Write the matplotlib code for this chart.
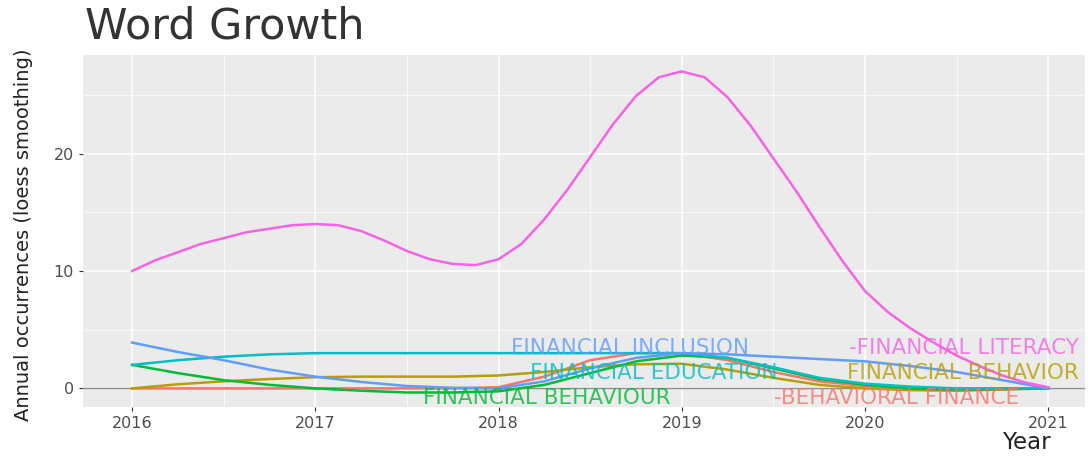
import numpy as np
import matplotlib
matplotlib.use("Agg")
import matplotlib.pyplot as plt
from matplotlib.ticker import MultipleLocator

plt.rcParams["font.family"] = ["DejaVu Sans"]

years = [2016.0, 2016.25, 2016.5, 2016.75, 2017.0, 2017.25, 2017.5, 2017.75,
         2018.0, 2018.25, 2018.5, 2018.75, 2019.0, 2019.25, 2019.5, 2019.75,
         2020.0, 2020.25, 2020.5, 2020.75, 2021.0]

behavioral_finance = [0, 0, 0, 0, 0, 0, 0, 0, 0.1, 1.0, 2.4, 3.0, 3.0,
                      2.4, 1.4, 0.6, 0.2, 0.0, -0.05, 0, 0]
financial_behavior = [0.0, 0.35, 0.6, 0.8, 0.95, 1.0, 1.0, 1.0, 1.1, 1.4, 1.8,
                      2.05, 2.1, 1.6, 0.9, 0.3, 0.0, -0.15, -0.2, -0.1, 0]
financial_behaviour = [2.0, 1.3, 0.7, 0.3, 0.0, -0.2, -0.35, -0.35, -0.25, 0.3,
                       1.3, 2.3, 2.8, 2.6, 1.7, 0.8, 0.3, 0.0, -0.1, -0.05, 0]
financial_education = [2.0, 2.4, 2.7, 2.9, 3.0, 3.0, 3.0, 3.0, 3.0, 3.0, 3.0,
                       3.0, 3.0, 2.6, 1.8, 0.9, 0.4, 0.15, 0.0, 0.0, 0.0]
financial_inclusion = [3.9, 3.1, 2.4, 1.6, 1.0, 0.55, 0.2, 0.05, 0.0, 0.6, 1.7,
                       2.6, 3.0, 2.9, 2.7, 2.5, 2.3, 1.9, 1.4, 0.7, 0]

years_fine = [2016.0 + i * 0.125 for i in range(41)]
financial_literacy = [10, 10.9, 11.6, 12.3, 12.8, 13.3, 13.6, 13.9,
                      14, 13.9, 13.4, 12.6, 11.7, 11.0, 10.6, 10.5,
                      11.0, 12.3, 14.4, 16.9, 19.7, 22.5, 24.9, 26.5,
                      27.0, 26.5, 24.8, 22.4, 19.6, 16.8, 13.8, 10.9,
                      8.3, 6.5, 5.1, 3.9, 2.8, 1.9, 1.1, 0.5, 0.1]

series = {
    "BEHAVIORAL FINANCE": (years, behavioral_finance, "#F8766D"),
    "FINANCIAL BEHAVIOR": (years, financial_behavior, "#B79F00"),
    "FINANCIAL BEHAVIOUR": (years, financial_behaviour, "#00BA38"),
    "FINANCIAL EDUCATION": (years, financial_education, "#00BFC4"),
    "FINANCIAL INCLUSION": (years, financial_inclusion, "#619CFF"),
    "FINANCIAL LITERACY": (years_fine, financial_literacy, "#F564E3"),
}

# Beschriftungen: (Text, x, y, Ausrichtung)
labels = [
    ("FINANCIAL INCLUSION", 2018.07, 3.4, "left"),
    ("-FINANCIAL LITERACY", 2021.17, 3.4, "right"),
    ("FINANCIAL EDUCATION", 2018.17, 1.3, "left"),
    ("FINANCIAL BEHAVIOR", 2021.17, 1.3, "right"),
    ("FINANCIAL BEHAVIOUR", 2017.59, -0.85, "left"),
    ("-BEHAVIORAL FINANCE", 2020.84, -0.85, "right"),
]
label_series = ["FINANCIAL INCLUSION", "FINANCIAL LITERACY", "FINANCIAL EDUCATION",
                "FINANCIAL BEHAVIOR", "FINANCIAL BEHAVIOUR", "BEHAVIORAL FINANCE"]

fig = plt.figure(figsize=(10.88, 4.58), dpi=100)
ax = fig.add_axes([0.076, 0.111, 0.921, 0.769])
ax.set_facecolor("#EBEBEB")

ax.axhline(0, color="#8C8C8C", lw=1.0, zorder=2)
for name, (xs, vals, col) in series.items():
    ax.plot(xs, vals, color=col, lw=1.8, zorder=3)

for (txt, x, y, ha), name in zip(labels, label_series):
    ax.text(x, y, txt, color=series[name][2], fontsize=15.5, ha=ha, va="center",
            alpha=0.8, zorder=4)

ax.set_xlim(2015.73, 2021.2)
ax.set_ylim(-1.6, 28.4)
ax.xaxis.set_major_locator(MultipleLocator(1))
ax.xaxis.set_minor_locator(MultipleLocator(0.5))
ax.yaxis.set_major_locator(MultipleLocator(10))
ax.yaxis.set_minor_locator(MultipleLocator(5))
ax.grid(which="major", color="white", lw=1.1)
ax.grid(which="minor", color="white", lw=0.5)
ax.set_axisbelow(True)
for s in ax.spines.values():
    s.set_visible(False)
ax.tick_params(which="major", length=3, color="#333333", labelcolor="#4D4D4D",
               labelsize=11.5)
ax.tick_params(which="minor", length=0)
ax.xaxis.set_major_formatter(plt.FuncFormatter(lambda v, p: f"{int(v)}"))

ax.set_ylabel("Annual occurrences (loess smoothing)", fontsize=14, color="#222222")
ax.yaxis.set_label_coords(-0.05, 0.49)
fig.text(0.966, 0.033, "Year", fontsize=16.5, ha="right", va="center", color="#222222")
fig.text(0.078, 0.942, "Word Growth", fontsize=31, ha="left", va="center",
         color="#333333")

plt.savefig("out.png", dpi=100)
